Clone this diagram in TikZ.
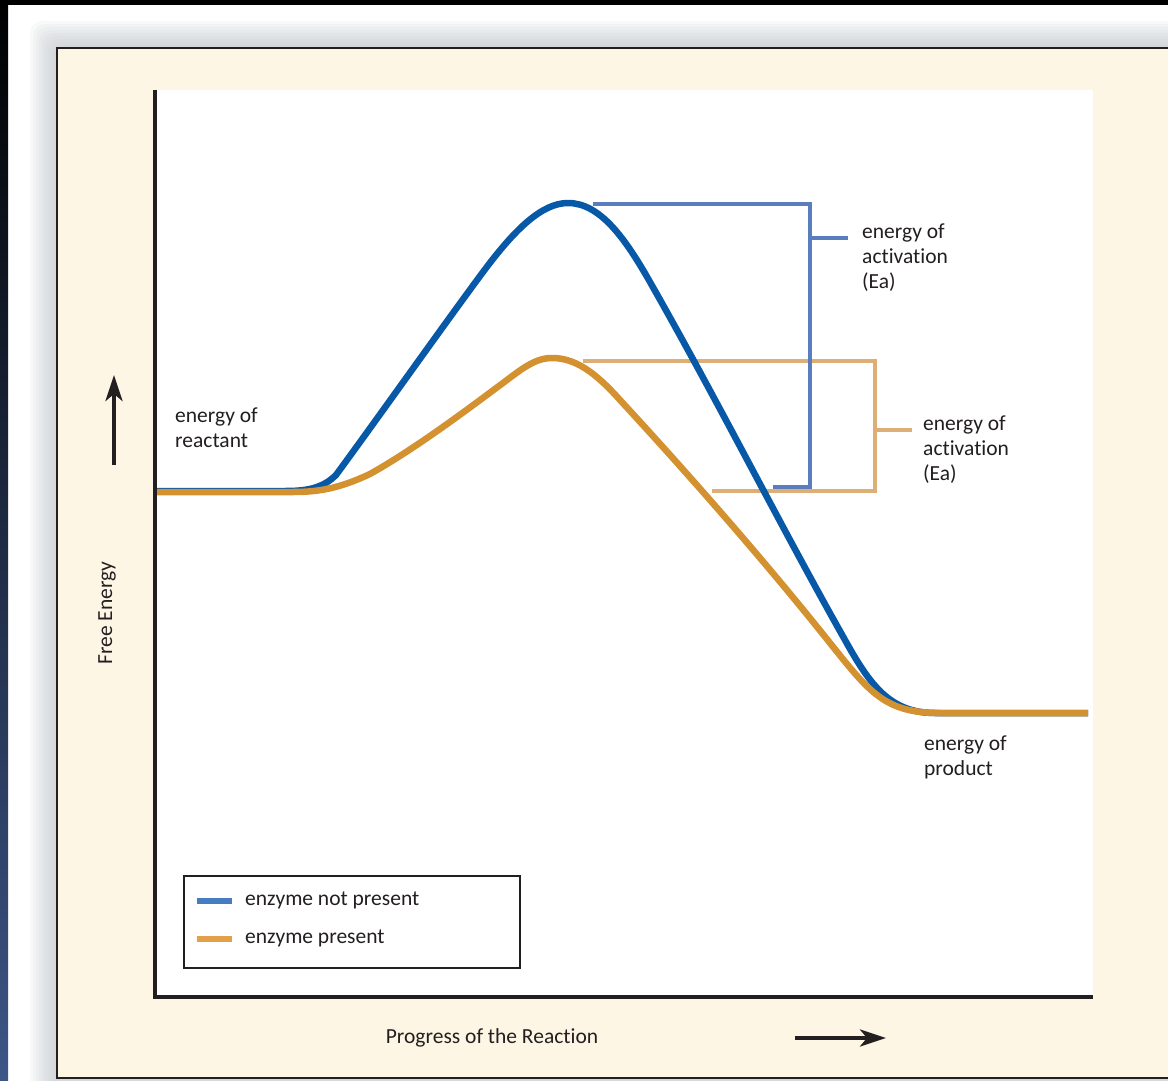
\documentclass[tikz,border=0pt]{standalone}
\usepackage{fontspec}
\setmainfont{Carlito}[Ligatures=NoCommon]
\usetikzlibrary{arrows.meta}
\definecolor{cream}{RGB}{253,246,229}
\definecolor{axisc}{RGB}{35,31,32}
\definecolor{bluecurve}{RGB}{8,88,168}
\definecolor{bluebr}{RGB}{90,125,190}
\definecolor{orcurve}{RGB}{212,145,48}
\definecolor{orbr}{RGB}{221,175,118}
\definecolor{legblue}{RGB}{70,125,192}
\definecolor{legor}{RGB}{226,160,74}
\definecolor{stripblue}{RGB}{61,86,135}
\definecolor{shadowc}{RGB}{185,192,198}
\begin{document}
\begin{tikzpicture}[x=1pt,y=-1pt,
  lbl/.style={font=\fontsize{21.5}{25}\selectfont, text=axisc, inner sep=0pt, align=left},
  curve/.style={line width=6.5pt, line join=round},
  bracket/.style={line width=3.5pt},
  axisline/.style={draw=axisc, line width=4pt},
  arrowline/.style={draw=axisc, line width=4pt, -{Stealth[length=26pt,width=17pt,inset=7pt]}},
]
\useasboundingbox (0,0) rectangle (1168,1081);
% page background and frame
\fill[white] (0,0) rectangle (1168,1081);
\shade[top color=black, bottom color=stripblue] (0,0) rectangle (8,1081);
\fill[black] (0,0) rectangle (1168,5);
\foreach \d in {27,24,...,3}
  \fill[shadowc, opacity=0.09, rounded corners=12pt] ({57-\d},{48-\d}) rectangle (1200,1110);
\fill[cream] (57,48) rectangle (1168,1078);
\draw[axisc, line width=2pt] (1168,48) -- (57,48) -- (57,1078) -- (1168,1078);
% plot area
\fill[white] (155,90) rectangle (1093,997);
% brackets
\draw[bracket, orbr] (583,361) -- (875,361) -- (875,491) -- (712,491);
\draw[bracket, orbr] (875,430) -- (912,430);
\draw[bracket, bluebr] (593,204) -- (810,204) -- (810,487) -- (773,487);
\draw[bracket, bluebr] (810,238) -- (848,238);
% curves
\draw[curve, bluecurve] (155,491) -- (285,491)
  .. controls (305,491) and (322,489) .. (336,475)
  .. controls (375,422) and (443,326) .. (483,272)
  .. controls (515,229) and (542,203) .. (568,203)
  .. controls (600,203) and (625,238) .. (650,282)
  .. controls (720,405) and (780,525) .. (845,640)
  .. controls (870,685) and (890,713) .. (935,713) -- (1088,713);
\draw[curve, orcurve] (155,492) -- (293,492)
  .. controls (320,492) and (340,488) .. (370,474)
  .. controls (420,446) and (480,400) .. (515,374)
  .. controls (530,363) and (540,358) .. (552,358)
  .. controls (575,358) and (595,372) .. (620,400)
  .. controls (680,465) and (760,555) .. (830,643)
  .. controls (870,693) and (885,713) .. (940,713) -- (1088,713);
% axes
\coordinate (ytop) at (155,90);
\coordinate (origin) at (155,997);
\coordinate (xend) at (1093,997);
\draw[axisline] (ytop) -- (155,999);
\draw[axisline] (153,997) -- (xend);
% axis arrows
\coordinate (upa) at (114,465);
\coordinate (upb) at (114,375);
\draw[arrowline] (upa) -- (upb);
\coordinate (ra) at (795,1038);
\coordinate (rb) at (886,1038);
\draw[arrowline] (ra) -- (rb);
% labels (base anchor = baseline of the last line)
\node[lbl, anchor=base west] (ea1) at (862,288) {energy of\\activation\\(Ea)};
\node[lbl, anchor=base west] (ea2) at (923,480) {energy of\\activation\\(Ea)};
\node[lbl, anchor=base west] (react) at (175,447) {energy of\\reactant};
\node[lbl, anchor=base west] (prod) at (924,775) {energy of\\product};
\node[lbl, rotate=90, anchor=base] (ylabel) at (112,613) {Free Energy};
\node[lbl, anchor=base] (xlabel) at (492,1043) {Progress of the Reaction};
% legend
\draw[axisc, line width=1.7pt, fill=white] (184,876) rectangle (520,968);
\node[inner sep=0pt, minimum size=0pt] (legendbox) at (352,922) {};
\draw[legblue, line width=6pt] (197,901) -- (232,901);
\draw[legor, line width=6pt] (197,939) -- (232,939);
\node[lbl, anchor=base west] (leg1) at (245,905) {enzyme not present};
\node[lbl, anchor=base west] (leg2) at (245,943) {enzyme present};
\end{tikzpicture}
\end{document}
